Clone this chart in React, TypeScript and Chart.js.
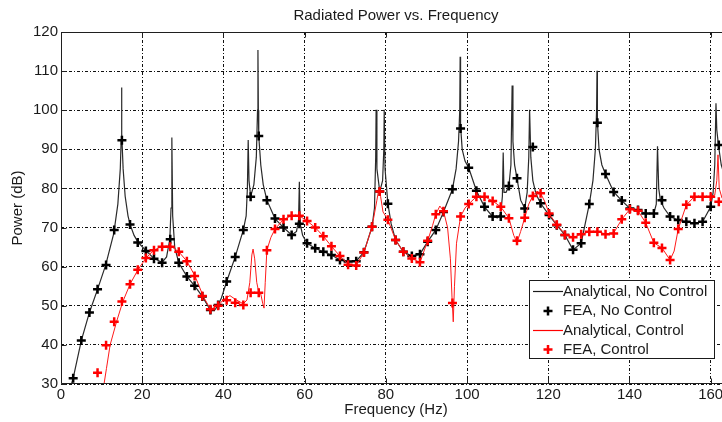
import React, { useEffect, useRef } from 'react';
import { Chart, registerables } from 'chart.js';

Chart.register(...registerables);

const chartTitle = 'Radiated Power vs. Frequency';
const xAxisTitle = 'Frequency (Hz)';
const yAxisTitle = 'Power (dB)';
const legendLabels = ['Analytical, No Control', 'FEA, No Control', 'Analytical, Control', 'FEA, Control'];
const xTicks = [0, 20, 40, 60, 80, 100, 120, 140, 160];
const yTicks = [30, 40, 50, 60, 70, 80, 90, 100, 110, 120];

const feaFreq = [3, 5, 7, 9, 11.1, 13.1, 15, 17, 18.9, 20.9,
  22.9, 24.9, 26.9, 29, 31, 32.9, 34.8, 36.8, 38.7, 40.8,
  42.9, 44.9, 46.7, 48.7, 50.7, 52.7, 54.8, 56.8, 58.7, 60.6,
  62.6, 64.6, 66.6, 68.7, 70.7, 72.7, 74.6, 76.6, 78.5, 80.5,
  82.4, 84.3, 86.4, 88.4, 90.3, 92.3, 94.2, 96.4, 98.4, 100.4,
  102.3, 104.3, 106.3, 108.3, 110.3, 112.3, 114.2, 116.2, 118.1, 120.2,
  122.1, 124.1, 126.1, 128.1, 130.1, 132.1, 134.1, 136.1, 138.1, 140.1,
  142.1, 144, 146, 148, 150, 152, 154, 156, 158, 160,
  162];

const feaNoControl = [31.5, 41.1, 48.3, 54.2, 60.4, 69.4, 92.3, 70.8, 66.2, 64.0,
  62.0, 61.0, 67.0, 61.0, 57.5, 55.1, 52.4, 48.9, 50.2, 56.2,
  62.5, 69.4, 77.9, 93.4, 77.0, 72.3, 70.0, 68.1, 71.0, 66.0,
  64.7, 63.8, 63.0, 61.7, 61.3, 61.4, 63.7, 70.2, 79.2, 76.1,
  66.8, 63.8, 62.7, 63.2, 66.4, 69.4, 74.0, 79.8, 95.3, 85.3,
  79.4, 75.3, 72.8, 72.8, 80.6, 82.6, 74.9, 90.6, 76.2, 73.2,
  70.6, 68.1, 64.3, 66.0, 76.0, 96.8, 83.7, 79.1, 76.9, 74.9,
  74.5, 73.6, 73.6, 77.0, 72.8, 71.9, 71.5, 71.1, 71.5, 75.3,
  91.1];

const feaControl = [null, null, null, 32.9, 39.9, 45.9, 51.1, 55.5, 59.2, 62.2,
  64.2, 65.1, 65.1, 63.8, 61.4, 57.6, 52.5, 49.1, 50.0, 51.4,
  50.8, 50.2, 53.3, 53.3, 64.2, 69.6, 72.1, 73.0, 73.0, 71.7,
  70.0, 67.8, 65.2, 62.7, 60.5, 60.3, 63.6, 70.2, 79.2, 72.0,
  66.8, 63.8, 62.1, 61.1, 66.6, 73.4, 74.2, 50.7, 72.8, 76.0,
  77.9, 77.9, 76.8, 75.3, 72.4, 66.6, 72.5, 78.1, 78.8, 73.6,
  70.7, 68.1, 67.5, 68.3, 68.9, 68.9, 68.3, 68.5, 72.1, 74.7,
  74.3, 71.2, 66.1, 64.8, 61.7, 69.6, 75.8, 77.9, 77.9, 77.9,
  76.6];

const anNoFreq = [2.6, 3, 5, 7, 9, 11, 13, 14, 14.6, 14.8, 14.9, 15.0, 15.3, 15.8, 16.5, 17, 18, 19, 21, 23,
  24.9, 26, 26.8, 27.1, 27.3, 27.5, 28, 29, 31, 32.9, 34.8, 36.8, 37.8, 38.7, 39.5, 40.8, 42.9, 44.9,
  45.6, 45.9, 46.1, 46.3, 46.7, 47.5, 48.1, 48.4, 48.5, 48.6, 48.7, 49.2, 49.8, 50.7, 52.7, 54.8, 56.8,
  58.0, 58.5, 58.7, 58.9, 59.5, 60.6, 62.6, 64.6, 66.6, 68.7, 70.7, 72.7, 74.6, 76.6, 77.2, 77.5, 77.6,
  77.8, 78.5, 79.2, 79.5, 79.6, 79.8, 80.5, 81.3, 82.4, 84.3, 86.4, 88.4, 90.3, 92.3, 94.2, 96.4, 97.3,
  97.9, 98.2, 98.3, 98.4, 98.8, 99.5, 100.4, 102.3, 104.3, 106.3, 107.5, 108.3, 108.7, 108.9, 109.1,
  109.6, 110.3, 110.8, 111.1, 111.3, 111.7, 112.3, 113.2, 114.2, 114.8, 115.2, 115.4, 115.7, 116.2,
  117.0, 118.1, 120.2, 122.1, 124.1, 126.1, 128.1, 130.1, 131.0, 131.6, 131.9, 132.0, 132.1, 132.5,
  133.2, 134.1, 136.1, 138.1, 140.1, 142.1, 144.0, 146.0, 146.6, 146.9, 147.2, 147.6, 148.5, 150.0,
  152.0, 154.0, 156.0, 158.0, 160.0, 160.6, 161.0, 161.3, 161.5, 161.9, 162.6, 163.5, 165];

const anNoDb = [30, 31.5, 41.1, 48.3, 54.2, 60.4, 68.5, 76, 85, 92, 105.8, 94, 85, 78, 73, 70.8, 68, 66.2, 64, 62,
  61.1, 62.5, 67, 75, 93.0, 73, 65, 61, 57.5, 55.1, 52.4, 48.9, 48.8, 50.2, 52, 56.2, 62.5, 69.4,
  73, 80, 92.4, 82, 77.9, 81, 88, 100, 115.4, 100, 93.4, 86, 81, 77, 72.3, 70.0, 68.1,
  69, 72, 81.7, 71, 68, 66, 64.7, 63.8, 63, 61.7, 61.3, 61.4, 63.7, 70.2, 75, 88, 100.1,
  85, 79.2, 82, 90, 100.1, 85, 76.1, 71, 66.8, 63.8, 62.7, 63.2, 66.4, 69.4, 74, 79.8, 85,
  92, 100, 113.7, 96, 90, 87, 85.3, 79.4, 75.3, 72.8, 72.5, 73.5, 78, 89.2, 79,
  79, 80.6, 86, 106.3, 92, 86, 82.6, 77, 74.9, 79, 88, 100.1, 88, 82,
  78.5, 76.2, 73.2, 70.6, 68.1, 64.3, 66, 76, 82, 90, 100, 110.1, 97, 90,
  86, 83.7, 79.1, 76.9, 74.9, 74.5, 73.6, 73.6, 76, 90.8, 80, 77, 75, 72.8,
  71.9, 71.5, 71.1, 71.5, 75.3, 79, 86, 101.8, 95, 91.1, 86, 83, 80];

const anCtlFreq = [10.6, 11.2, 12.1, 13.7, 15.2, 17, 19, 21, 23, 25, 27, 29, 31, 33, 35, 36.8, 38.7, 40, 41.6,
  43, 44.9, 45.8, 46.5, 47.0, 47.3, 47.7, 48.2, 48.7, 49.2, 49.7, 50.0, 50.3, 50.7, 51.7, 52.7, 54.8,
  56.8, 58.7, 60.6, 62.6, 64.6, 66.6, 68.7, 70.7, 72.7, 74.6, 76.6, 77.8, 78.3, 78.7, 79.3, 80.5, 82.4,
  84.3, 86.4, 88.4, 90.3, 91.5, 92.3, 93.3, 94.2, 95.2, 95.9, 96.3, 96.6, 96.9, 97.4, 98.4, 99.5,
  100.4, 102.3, 104.3, 106.3, 108.3, 110.3, 111.5, 112.3, 113.2, 114.2, 115.2, 116.2, 117.2, 118.1,
  119.2, 120.2, 122.1, 124.1, 126.1, 128.1, 130.1, 132.1, 134.1, 136.1, 138.1, 140.1, 142.1, 144.0,
  146.0, 148.0, 150.0, 151.0, 152.0, 154.0, 156.0, 158.0, 160.0, 161.0, 161.5, 161.8, 162.1, 162.8, 165];

const anCtlDb = [30, 34, 40, 46, 51, 55.5, 59.3, 62.3, 64.3, 65.2, 65.3, 63.8, 61.4, 57.6, 52.5, 49.1, 50.0, 51.6, 52.6,
  51.6, 50.5, 51.5, 56, 63, 64.5, 62, 56, 53.5, 53, 50.5, 49.4, 56, 64.2, 67.5, 69.6, 72.1,
  73.0, 73.0, 71.7, 70.0, 67.8, 65.2, 62.7, 60.6, 60.3, 63.6, 70.2, 77, 80, 78, 74, 72.0, 66.8,
  63.8, 62.1, 61.1, 66.6, 70.5, 73.4, 75.5, 74.2, 70, 62, 52, 45.9, 55, 66, 72.8, 75,
  76.0, 77.9, 77.9, 76.8, 75.3, 72.4, 68, 66.2, 69, 72.5, 76, 78.1, 79.3, 78.8,
  76.5, 73.6, 70.7, 68.4, 67.5, 68.3, 68.9, 68.9, 68.4, 68.6, 72.1, 74.7, 74.3, 71.2,
  66.1, 64.8, 61.7, 64, 69.6, 75.8, 77.9, 77.9, 77.9, 78.3, 82, 88.6, 80, 77.5, 77];

const FONT = '"Liberation Sans", Arial, Helvetica, sans-serif';

const toPoints = (xs: number[], ys: (number | null)[]) =>
  xs.map((x, i) => ({ x, y: ys[i] })).filter((p) => p.y !== null);

const decorPlugin = {
  id: 'decor',
  afterDraw(chart: any) {
    const { ctx, chartArea: a, scales } = chart;
    ctx.save();
    ctx.setLineDash([]);
    ctx.strokeStyle = '#1f1f1f';
    ctx.lineWidth = 1;
    const L = Math.round(a.left) + 0.5;
    const R = Math.round(a.right) - 0.5;
    const T = Math.round(a.top) + 0.5;
    const B = Math.round(a.bottom) - 0.5;
    ctx.beginPath();
    ctx.moveTo(L, T); ctx.lineTo(R, T); ctx.lineTo(R, B); ctx.lineTo(L, B); ctx.closePath();
    ctx.stroke();
    // inner tick marks
    ctx.beginPath();
    yTicks.forEach((v) => {
      const y = Math.round(scales.y.getPixelForValue(v)) + 0.5;
      ctx.moveTo(L, y); ctx.lineTo(L + 5, y);
      ctx.moveTo(R, y); ctx.lineTo(R - 5, y);
    });
    xTicks.forEach((v) => {
      const x = Math.round(scales.x.getPixelForValue(v)) + 0.5;
      ctx.moveTo(x, B); ctx.lineTo(x, B - 5);
      ctx.moveTo(x, T); ctx.lineTo(x, T + 5);
    });
    ctx.stroke();

    // title
    ctx.fillStyle = '#1a1a1a';
    ctx.font = `15px ${FONT}`;
    ctx.textAlign = 'center';
    ctx.textBaseline = 'middle';
    ctx.fillText(chartTitle, (a.left + a.right) / 2, 15.5);

    // legend
    const lx = 529.5, ly = 280.5, lw = 185, lh = 78;
    ctx.fillStyle = '#ffffff';
    ctx.fillRect(lx, ly, lw, lh);
    ctx.strokeStyle = '#1a1a1a';
    ctx.lineWidth = 1;
    ctx.strokeRect(lx, ly, lw, lh);
    const rows = [291.5, 311, 330.5, 349.5];
    const colors = ['#1a1a1a', '#000000', '#ff0000', '#ff0000'];
    rows.forEach((ry, i) => {
      if (i % 2 === 0) {
        ctx.strokeStyle = colors[i];
        ctx.lineWidth = 1.2;
        ctx.beginPath();
        ctx.moveTo(533, ry); ctx.lineTo(563, ry);
        ctx.stroke();
      } else {
        ctx.strokeStyle = colors[i];
        ctx.lineWidth = 2.5;
        ctx.beginPath();
        ctx.moveTo(548 - 4.5, ry); ctx.lineTo(548 + 4.5, ry);
        ctx.moveTo(548, ry - 4.5); ctx.lineTo(548, ry + 4.5);
        ctx.stroke();
      }
      ctx.fillStyle = '#1a1a1a';
      ctx.font = `15px ${FONT}`;
      ctx.textAlign = 'left';
      ctx.textBaseline = 'middle';
      ctx.fillText(legendLabels[i], 563, ry);
    });
    ctx.restore();
  },
};

export default function App() {
  const ref = useRef<HTMLCanvasElement | null>(null);

  useEffect(() => {
    if (!ref.current) return;
    const chart = new Chart(ref.current, {
      type: 'scatter',
      data: {
        datasets: [
          {
            label: legendLabels[3],
            data: toPoints(feaFreq, feaControl) as any,
            showLine: false,
            pointStyle: 'cross',
            pointRadius: 4.5,
            pointBorderWidth: 2.5,
            borderColor: '#ff0000',
            backgroundColor: '#ff0000',
          },
          {
            label: legendLabels[2],
            data: toPoints(anCtlFreq, anCtlDb) as any,
            showLine: true,
            pointRadius: 0,
            borderWidth: 1,
            borderColor: '#ff1a1a',
            tension: 0,
          },
          {
            label: legendLabels[1],
            data: toPoints(feaFreq, feaNoControl) as any,
            showLine: false,
            pointStyle: 'cross',
            pointRadius: 4.5,
            pointBorderWidth: 2.5,
            borderColor: '#000000',
            backgroundColor: '#000000',
          },
          {
            label: legendLabels[0],
            data: toPoints(anNoFreq, anNoDb) as any,
            showLine: true,
            pointRadius: 0,
            borderWidth: 1.2,
            borderColor: '#2a2a2a',
            tension: 0,
          },
        ],
      },
      options: {
        responsive: false,
        animation: false,
        events: [],
        layout: { padding: { left: 0, top: 32, right: 29, bottom: 0 } },
        plugins: {
          legend: { display: false },
          tooltip: { enabled: false },
          title: { display: false },
        },
        scales: {
          x: {
            type: 'linear',
            min: 0,
            max: 165,
            afterBuildTicks: (s: any) => { s.ticks = xTicks.map((v) => ({ value: v })); },
            afterFit: (s: any) => { s.height = 38; },
            grid: { color: '#111', lineWidth: 1, drawTicks: false },
            border: { display: false, dash: [3, 2, 1, 2] },
            ticks: { padding: 2, color: '#1a1a1a', font: { family: FONT, size: 15 } },
            title: {
              display: true,
              text: xAxisTitle,
              color: '#1a1a1a',
              font: { family: FONT, size: 15 },
              padding: { top: 0, bottom: 3 },
            },
          },
          y: {
            type: 'linear',
            min: 30,
            max: 120,
            afterBuildTicks: (s: any) => { s.ticks = yTicks.map((v) => ({ value: v })); },
            afterFit: (s: any) => { s.width = 61; },
            grid: { color: '#111', lineWidth: 1, drawTicks: false },
            border: { display: false, dash: [3, 2, 1, 2] },
            ticks: { padding: 3, color: '#1a1a1a', font: { family: FONT, size: 15 } },
            title: {
              display: true,
              text: yAxisTitle,
              color: '#1a1a1a',
              font: { family: FONT, size: 15 },
              padding: { top: 9, bottom: 0 },
            },
          },
        },
      },
      plugins: [decorPlugin],
    });
    return () => chart.destroy();
  }, []);

  return (
    <div style={{ position: 'fixed', left: 0, top: 0, width: 722, height: 422, overflow: 'hidden', background: '#fff' }}>
      <canvas ref={ref} width={760} height={422} style={{ display: 'block', width: 760, height: 422 }} />
    </div>
  );
}
